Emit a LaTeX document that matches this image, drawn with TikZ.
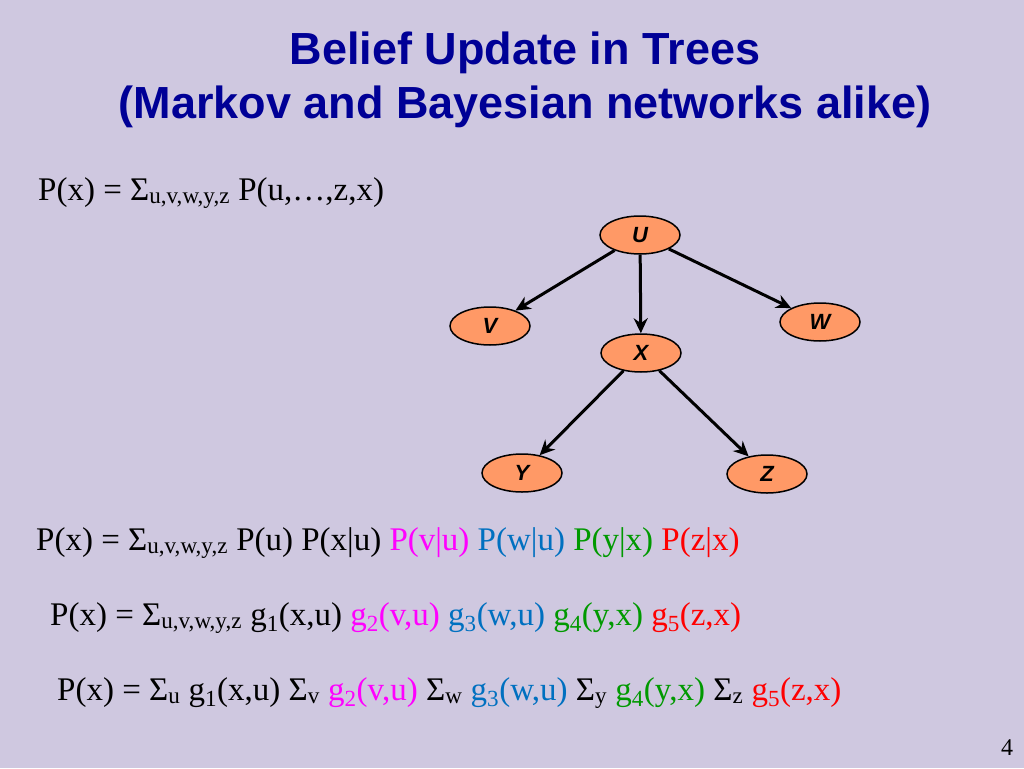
\documentclass[tikz,border=0pt]{standalone}
\usepackage{fontspec}
\setmainfont{Liberation Serif}
\newfontfamily\hd{Liberation Sans}
\usetikzlibrary{shapes.geometric,arrows.meta}
\definecolor{bg}{RGB}{207,200,224}
\definecolor{tblue}{RGB}{0,0,150}
\definecolor{mg}{RGB}{255,0,255}
\definecolor{bl}{RGB}{0,112,192}
\definecolor{gr}{RGB}{0,153,0}
\definecolor{rd}{RGB}{255,0,0}
\definecolor{org}{RGB}{255,153,102}
\newcommand{\Sg}[1]{Σ\textsubscript{#1}}
\begin{document}
\begin{tikzpicture}[x=1pt,y=-1pt,
  vnode/.style={ellipse,draw,line width=1.5pt,fill=org,minimum width=80pt,minimum height=38pt,inner sep=0pt,font=\hd\bfseries\itshape\fontsize{22}{22}\selectfont},
  edge/.style={line width=3pt,-{Stealth[length=15pt,width=14pt]}},
  eq/.style={anchor=west,font=\fontsize{33}{34}\selectfont,inner sep=0pt}]
\fill[bg] (0,0) rectangle (1024,768);
\node[font=\hd\bfseries\fontsize{45}{54}\selectfont,text=tblue,align=center] (title) at (525,80) {Belief Update in Trees\\(Markov and Bayesian networks alike)};
\node[eq] (e1) at (38,193) {P(x) = \Sg{u,v,w,y,z} P(u,\ldots,z,x)};
\node[vnode] (U) at (640,235) {U};
\node[vnode] (V) at (490,326) {V};
\node[vnode] (W) at (820,322) {W};
\node[vnode] (X) at (641,353) {X};
\node[vnode] (Y) at (522,473) {Y};
\node[vnode] (Z) at (767,474) {Z};
\draw[edge] (U) -- (V);
\draw[edge] (U) -- (W);
\draw[edge] (U) -- (X);
\draw[edge] (X) -- (Y);
\draw[edge] (X) -- (Z);
\node[eq] (e2) at (36,543) {P(x) = \Sg{u,v,w,y,z} P(u) P(x|u) \textcolor{mg}{P(v|u)} \textcolor{bl}{P(w|u)} \textcolor{gr}{P(y|x)} \textcolor{rd}{P(z|x)}};
\node[eq] (e3) at (50,618) {P(x) = \Sg{u,v,w,y,z} g\textsubscript{1}(x,u) \textcolor{mg}{g\textsubscript{2}(v,u)} \textcolor{bl}{g\textsubscript{3}(w,u)} \textcolor{gr}{g\textsubscript{4}(y,x)} \textcolor{rd}{g\textsubscript{5}(z,x)}};
\node[eq] (e4) at (57,693) {P(x) = \Sg{u} g\textsubscript{1}(x,u) \Sg{v} \textcolor{mg}{g\textsubscript{2}(v,u)} \Sg{w} \textcolor{bl}{g\textsubscript{3}(w,u)} \Sg{y} \textcolor{gr}{g\textsubscript{4}(y,x)} \Sg{z} \textcolor{rd}{g\textsubscript{5}(z,x)}};
\node[font=\fontsize{24}{24}\selectfont] (pg) at (1007,748) {4};
\end{tikzpicture}
\end{document}
